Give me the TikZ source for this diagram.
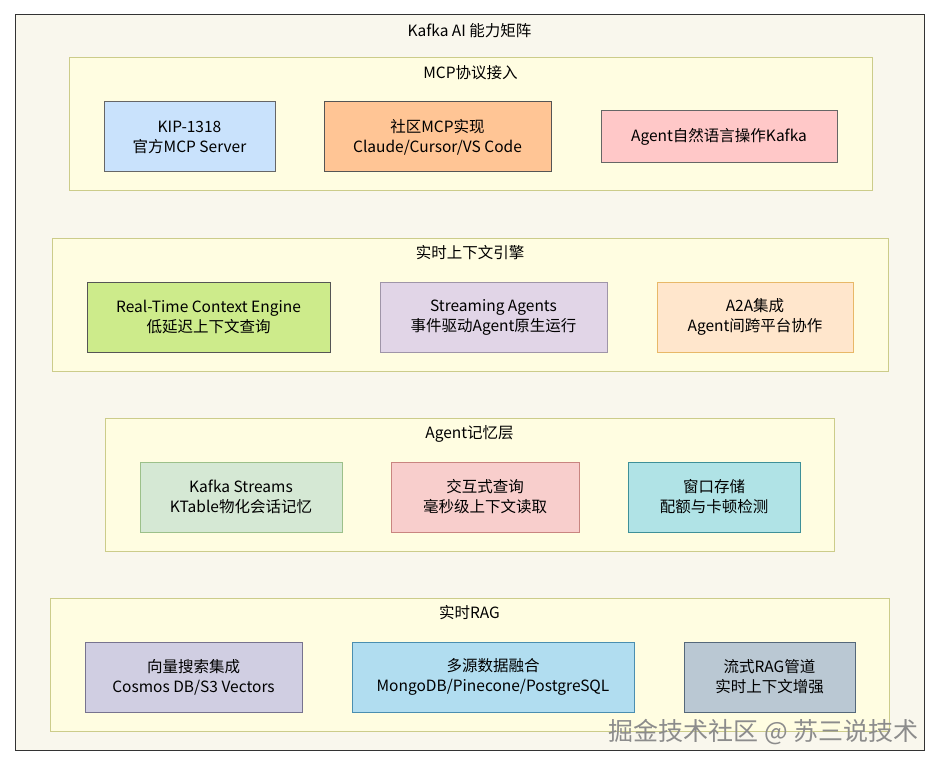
\documentclass[tikz,border=0pt]{standalone}
\usepackage{fontspec}
\usepackage{tikz}
\usetikzlibrary{positioning}
\newfontfamily\cjk{Noto Sans CJK SC}

\definecolor{framefill}{HTML}{F9F7ED}
\definecolor{framedraw}{HTML}{333333}
\definecolor{bandfill}{HTML}{FFFDE1}
\definecolor{banddraw}{HTML}{CCCC8A}
\definecolor{kipfill}{HTML}{C9E2FC}      \definecolor{kipdraw}{HTML}{666666}
\definecolor{commfill}{HTML}{FFC595}     \definecolor{commdraw}{HTML}{555555}
\definecolor{nlfill}{HTML}{FFC8C8}       \definecolor{nldraw}{HTML}{666666}
\definecolor{rtfill}{HTML}{CDEB8B}       \definecolor{rtdraw}{HTML}{555555}
\definecolor{streamfill}{HTML}{E1D5E7}   \definecolor{streamdraw}{HTML}{9F95A8}
\definecolor{atoafill}{HTML}{FFE6CC}     \definecolor{atoadraw}{HTML}{E8B868}
\definecolor{ksfill}{HTML}{D5E8D4}       \definecolor{ksdraw}{HTML}{9CC08A}
\definecolor{iqfill}{HTML}{F8CECC}       \definecolor{iqdraw}{HTML}{C98580}
\definecolor{winfill}{HTML}{B0E3E6}      \definecolor{windraw}{HTML}{3E9098}
\definecolor{vecfill}{HTML}{D0CEE2}      \definecolor{vecdraw}{HTML}{77738F}
\definecolor{fusfill}{HTML}{B1DDF0}      \definecolor{fusdraw}{HTML}{4A8EB0}
\definecolor{pipefill}{HTML}{BAC8D3}     \definecolor{pipedraw}{HTML}{55687A}

\begin{document}
\begin{tikzpicture}[x=1pt, y=-1pt,
    every node/.style={font=\cjk\fontsize{15.5}{20}\selectfont, align=center, inner sep=0pt},
    frame/.style={draw=framedraw, fill=framefill, line width=1pt, minimum width=909pt, minimum height=735pt},
    band/.style={draw=banddraw, fill=bandfill, line width=1pt, minimum height=133pt, minimum width=#1},
    cell/.style 2 args={draw=#1draw, fill=#1fill, line width=1pt, minimum height=70pt, minimum width=#2}
    ]
    \useasboundingbox (0,0) rectangle (941,767);

    % outer frame and title
    \node[frame] (matrix) at (469.5,382.5) {};
    \node[below=9pt of matrix.north] (title) {Kafka AI 能力矩阵};

    % layers
    \node[band=803pt] (mcp) at (470.5,124.5) {};
    \node[band=836pt] (ctx) at (470,304.5) {};
    \node[band=729pt] (mem) at (469.5,484.5) {};
    \node[band=839pt] (rag) at (469.5,664.5) {};

    % layer titles
    \node[below=8pt of mcp.north] {MCP协议接入};
    \node[below=8pt of ctx.north] {实时上下文引擎};
    \node[below=8pt of mem.north] {Agent记忆层};
    \node[below=8pt of rag.north] {实时RAG};

    % MCP layer
    \node[cell={kip}{171pt}] (kip) at (189.5,137) {KIP-1318\\官方MCP Server};
    \node[cell={comm}{227pt}] (community) at (437.5,137) {社区MCP实现\\Claude/Cursor/VS Code};
    \node[cell={nl}{236pt}, minimum height=52pt] (nlagent) at (719,137) {Agent自然语言操作Kafka};

    % context engine layer
    \node[cell={rt}{243pt}] (rtce) at (208.5,317) {Real-Time Context Engine\\低延迟上下文查询};
    \node[cell={stream}{227pt}] (streaming) at (493.5,317) {Streaming Agents\\事件驱动Agent原生运行};
    \node[cell={atoa}{196pt}] (atoa) at (755,317) {A2A集成\\Agent间跨平台协作};

    % memory layer
    \node[cell={ks}{202pt}] (kstreams) at (241,497) {Kafka Streams\\KTable物化会话记忆};
    \node[cell={iq}{188pt}] (iquery) at (485,497) {交互式查询\\毫秒级上下文读取};
    \node[cell={win}{172pt}] (window) at (714,497) {窗口存储\\配额与卡顿检测};

    % RAG layer
    \node[cell={vec}{217pt}] (vector) at (193.5,677) {向量搜索集成\\Cosmos DB/S3 Vectors};
    \node[cell={fus}{282pt}] (fusion) at (493,677) {多源数据融合\\MongoDB/Pinecone/PostgreSQL};
    \node[cell={pipe}{171pt}] (pipeline) at (769.5,677) {流式RAG管道\\实时上下文增强};

    % watermark
    \node[font=\cjk\fontsize{25}{26}\selectfont, text=black!45, anchor=east] (mark) at (919,732) {掘金技术社区 @ 苏三说技术};
\end{tikzpicture}
\end{document}
